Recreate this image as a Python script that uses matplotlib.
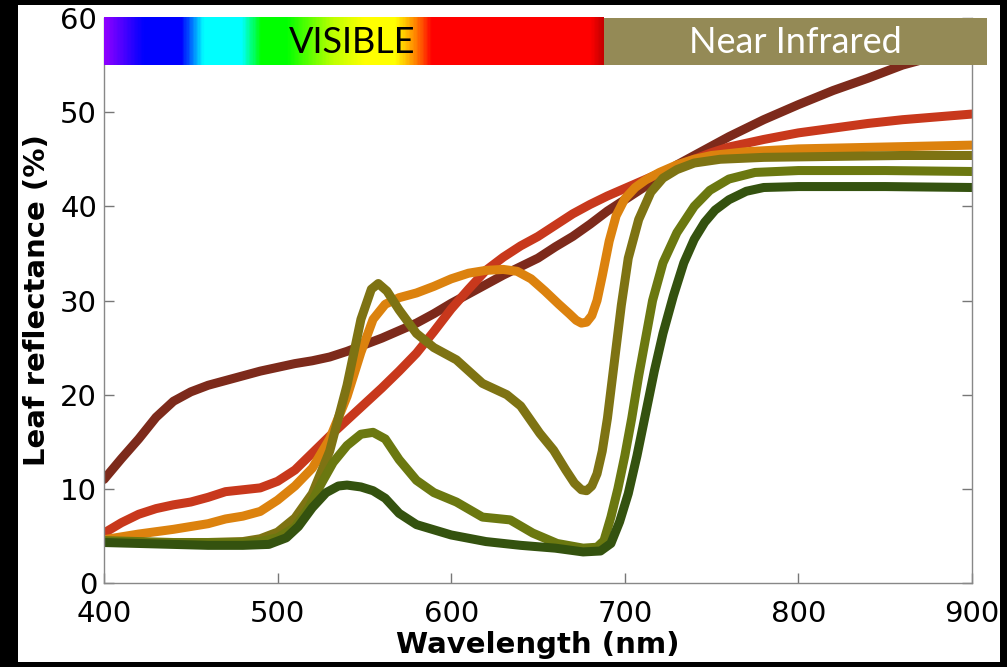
import numpy as np
import matplotlib
matplotlib.use("Agg")
import matplotlib.pyplot as plt
from matplotlib.colors import LinearSegmentedColormap
from matplotlib.patches import Rectangle

# leaf reflectance curves (wavelength nm, reflectance %)
wl_brown = [400, 410, 420, 430, 440, 450, 460, 470, 480, 490, 500, 510, 520, 530, 540, 550,
            560, 570, 580, 590, 600, 610, 620, 630, 640, 650, 660, 670, 680, 690, 700, 710,
            720, 730, 740, 750, 760, 780, 800, 820, 840, 860, 880, 900]
r_brown = [11.0, 13.2, 15.3, 17.6, 19.3, 20.3, 21.0, 21.5, 22.0, 22.5, 22.9, 23.3, 23.6, 24.0,
           24.6, 25.3, 26.0, 26.8, 27.6, 28.6, 29.7, 30.7, 31.7, 32.7, 33.6, 34.5, 35.7, 36.8,
           38.1, 39.5, 40.7, 41.9, 43.2, 44.4, 45.4, 46.4, 47.4, 49.2, 50.8, 52.3, 53.6, 55.0,
           56.0, 57.0]

wl_red = [400, 410, 420, 430, 440, 450, 460, 470, 480, 490, 500, 510, 520, 530, 540, 550,
          560, 570, 580, 590, 600, 610, 620, 630, 640, 650, 660, 670, 680, 690, 700, 710,
          720, 730, 740, 750, 760, 780, 800, 820, 840, 860, 880, 900]
r_red = [5.3, 6.4, 7.3, 7.9, 8.3, 8.6, 9.1, 9.7, 9.9, 10.1, 10.8, 12.0, 13.8, 15.6, 17.3, 19.0,
         20.7, 22.5, 24.4, 26.7, 29.1, 31.2, 33.2, 34.6, 35.8, 36.8, 38.0, 39.2, 40.2, 41.1,
         41.9, 42.7, 43.5, 44.3, 45.0, 45.7, 46.3, 47.1, 47.8, 48.3, 48.8, 49.2, 49.5, 49.8]

wl_orange = [400, 420, 440, 460, 470, 480, 490, 500, 510, 520, 530, 540, 548, 555, 562, 570,
             580, 590, 600, 610, 620, 630, 638, 646, 654, 662, 668, 672, 675, 678, 681, 684,
             687, 691, 695, 700, 706, 712, 720, 730, 740, 750, 770, 800, 850, 900]
r_orange = [4.6, 5.2, 5.7, 6.3, 6.8, 7.1, 7.6, 8.8, 10.3, 12.2, 15.3, 19.8, 24.5, 28.0, 29.6,
            30.3, 30.8, 31.5, 32.3, 32.9, 33.2, 33.3, 33.1, 32.3, 31.0, 29.6, 28.6, 27.9, 27.6,
            27.7, 28.4, 30.0, 32.6, 36.3, 39.0, 40.8, 42.0, 42.8, 43.6, 44.4, 45.0, 45.4, 45.8,
            46.1, 46.3, 46.5]

wl_olive = [400, 420, 440, 460, 480, 490, 500, 510, 520, 530, 540, 548, 554, 558, 563, 570,
            580, 590, 603, 618, 632, 640, 651, 659, 666, 671, 675, 678, 681, 684, 687, 690,
            694, 698, 702, 708, 715, 722, 730, 740, 755, 780, 820, 860, 900]
r_olive = [4.4, 4.3, 4.3, 4.3, 4.4, 4.7, 5.4, 6.9, 9.5, 14.0, 21.0, 28.0, 31.2, 31.8, 31.0,
           29.0, 26.5, 25.0, 23.7, 21.2, 20.0, 18.8, 15.9, 14.1, 12.0, 10.6, 9.9, 9.8, 10.3,
           11.6, 14.0, 17.5, 23.5, 29.5, 34.5, 38.6, 41.5, 43.0, 43.9, 44.6, 45.0, 45.2, 45.3,
           45.4, 45.4]

wl_olivegreen = [400, 420, 440, 460, 480, 490, 500, 510, 518, 525, 532, 540, 548, 555, 562,
                 570, 580, 590, 603, 618, 634, 647, 661, 676, 684, 688, 692, 696, 700, 704,
                 708, 712, 716, 722, 730, 740, 749, 760, 775, 800, 850, 900]
r_olivegreen = [4.5, 4.4, 4.3, 4.3, 4.3, 4.4, 4.8, 5.9, 8.0, 10.5, 12.8, 14.6, 15.8, 16.0,
                15.3, 13.1, 10.9, 9.6, 8.6, 7.0, 6.7, 5.3, 4.2, 3.7, 3.8, 4.5, 7.0, 10.0,
                13.5, 17.5, 22.0, 26.0, 30.0, 34.0, 37.2, 40.0, 41.7, 42.9, 43.6, 43.8, 43.8,
                43.7]

wl_green = [400, 420, 440, 460, 480, 495, 505, 512, 520, 528, 535, 540, 548, 555, 562, 570,
            580, 600, 620, 640, 660, 676, 686, 692, 697, 702, 707, 712, 717, 722, 728, 734,
            740, 746, 752, 760, 770, 780, 800, 850, 900]
r_green = [4.3, 4.2, 4.1, 4.0, 4.0, 4.1, 4.8, 6.0, 8.0, 9.6, 10.3, 10.4, 10.2, 9.8, 9.0, 7.4,
           6.2, 5.1, 4.4, 4.0, 3.7, 3.3, 3.4, 4.2, 6.5, 9.5, 13.5, 18.0, 22.5, 26.5, 30.5,
           34.0, 36.5, 38.3, 39.6, 40.7, 41.6, 42.0, 42.1, 42.1, 42.0]

x_ticks = [400, 500, 600, 700, 800, 900]
y_ticks = [0, 10, 20, 30, 40, 50, 60]

# spectrum band stops (nm, colour)
band_stops = [(400, "#8c00ff"), (422, "#0000ff"), (444, "#0000ff"), (457, "#00ffff"),
              (479, "#00ffff"), (490, "#00ff00"), (505, "#00ff00"), (532, "#bfff00"),
              (550, "#ffff00"), (568, "#ffff00"), (580, "#ff8000"), (589, "#ff0000"),
              (681, "#ff0000"), (688, "#c80000")]

fig = plt.figure(figsize=(10.07, 6.67), dpi=100)
fig.patch.set_facecolor("black")
fig.patches.append(Rectangle((18 / 1007, 5 / 667), 982 / 1007, 657 / 667,
                             transform=fig.transFigure, facecolor="white", edgecolor="none",
                             zorder=-5))

ax = fig.add_axes([104 / 1007, 84 / 667, 868 / 1007, 565 / 667])
ax.set_facecolor("white")

lw = 6.5
ax.plot(wl_brown, r_brown, color="#7d2a1b", lw=lw, solid_capstyle="round")
ax.plot(wl_red, r_red, color="#c8381c", lw=lw, solid_capstyle="round")
ax.plot(wl_orange, r_orange, color="#dc820e", lw=lw, solid_capstyle="round")
ax.plot(wl_olive, r_olive, color="#7e7313", lw=lw, solid_capstyle="round")
ax.plot(wl_olivegreen, r_olivegreen, color="#6b7810", lw=lw, solid_capstyle="round")
ax.plot(wl_green, r_green, color="#34520f", lw=lw, solid_capstyle="round")

# spectrum bar across the top
b0, b1 = band_stops[0][0], band_stops[-1][0]
cmap = LinearSegmentedColormap.from_list(
    "vis", [((w - b0) / (b1 - b0), c) for w, c in band_stops])
ax.imshow(np.linspace(0, 1, 400).reshape(1, -1), cmap=cmap, aspect="auto",
          extent=[b0, b1, 55, 60], zorder=5, clip_on=False, interpolation="bilinear")
ax.add_patch(Rectangle((688, 55), 220.7, 5, facecolor="#948a56", edgecolor="none",
                       zorder=5, clip_on=False))
ax.text(543, 57.45, "VISIBLE", family="Lato", fontsize=26, color="black",
        ha="center", va="center", zorder=6)
ax.text(798, 57.45, "Near Infrared", family="Lato", fontsize=26, color="white",
        ha="center", va="center", zorder=6, clip_on=False)

ax.set_xlim(400, 900)
ax.set_ylim(0, 60)
ax.set_xticks(x_ticks)
ax.set_yticks(y_ticks)
ax.tick_params(direction="in", length=7, width=1, color="#777777", top=False, right=True,
               labelsize=21, labelcolor="black", pad=5)
ax.tick_params(axis="x", pad=12)
for s in ["left", "right", "bottom"]:
    ax.spines[s].set_color("#888888")
    ax.spines[s].set_linewidth(1)
ax.spines["top"].set_visible(False)

fig.text(538 / 1007, 1 - 645 / 667, "Wavelength (nm)", fontsize=21, fontweight="bold",
         ha="center", va="center")
fig.text(37 / 1007, 1 - 300 / 667, "Leaf reflectance (%)", fontsize=21, fontweight="bold",
         ha="center", va="center", rotation=90)

fig.savefig("out.png", dpi=100, facecolor=fig.get_facecolor())
